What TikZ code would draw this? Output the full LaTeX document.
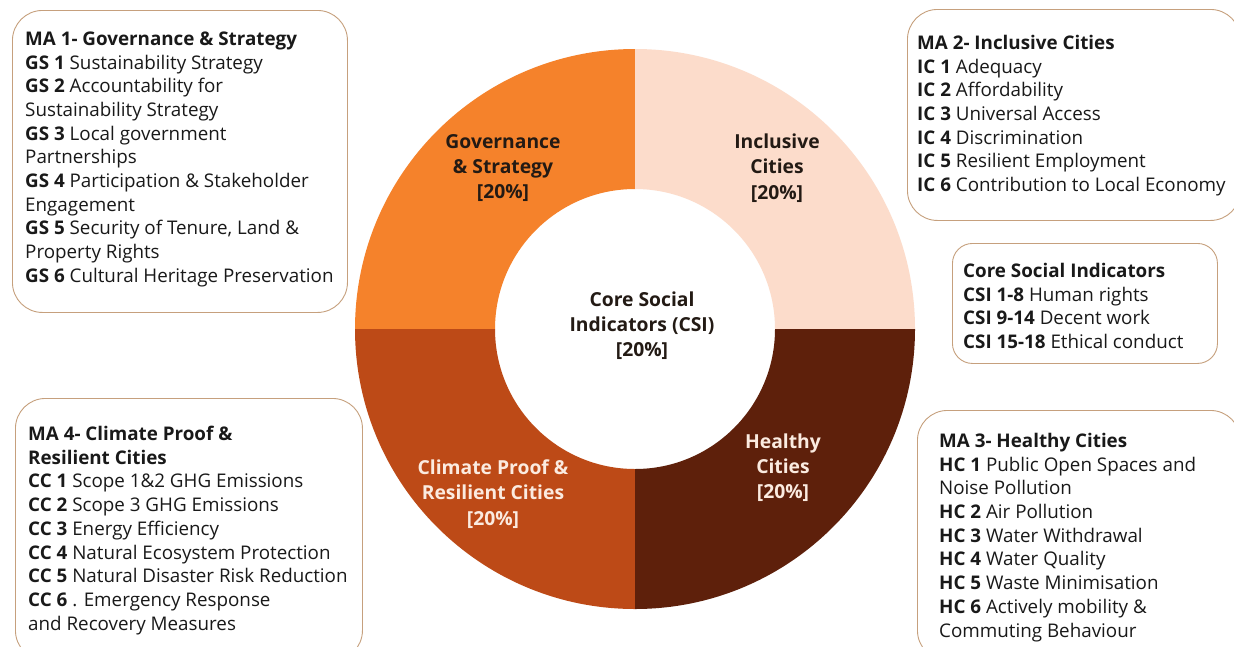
\documentclass[tikz,border=0pt]{standalone}
\usepackage{fontspec}
\setmainfont{Open Sans}
\usetikzlibrary{positioning}

\definecolor{govorange}{HTML}{F5822B}
\definecolor{incpeach}{HTML}{FCDCCB}
\definecolor{clmrust}{HTML}{BD4A17}
\definecolor{hltbrown}{HTML}{5E200B}
\definecolor{cardline}{HTML}{C6A07D}
\definecolor{darktxt}{HTML}{231A14}
\definecolor{lighttxt}{HTML}{FBEBE0}

\begin{document}
\begin{tikzpicture}[x=1pt, y=-1pt,
        card/.style={draw=cardline, line width=0.9pt, rounded corners=30pt, anchor=north west},
        list/.style={anchor=north west, align=left, inner sep=0pt, text=black!90, font=\fontsize{18.8}{23.7}\selectfont},
        seglbl/.style={align=center, inner sep=0pt, font=\fontsize{19.3}{25.3}\selectfont\bfseries}
    ]
        \useasboundingbox[fill=white] (0,0) rectangle (1234,646);

        % donut: four quarters round the core
        \begin{scope}[shift={(635,329)}, x=1pt, y=1pt]
            \foreach \a/\col in {90/govorange, 0/incpeach, 180/clmrust, 270/hltbrown}
                \fill[\col] (\a:280) arc[start angle=\a, end angle=\a+90, radius=280]
                    -- (\a+90:140) arc[start angle=\a+90, end angle=\a, radius=140] -- cycle;
        \end{scope}

        \node[seglbl, text=darktxt] (govlbl) at (503,168) {Governance\\\& Strategy\\{[20\%]}};
        \node[seglbl, text=darktxt] (inclbl) at (777,168) {Inclusive\\Cities\\{[20\%]}};
        \node[seglbl, text=darktxt] (csilbl) at (642,325.5) {Core Social\\Indicators (CSI)\\{[20\%]}};
        \node[seglbl, text=lighttxt] (hltlbl) at (783,467.5) {Healthy\\Cities\\{[20\%]}};
        \node[seglbl, text=lighttxt] (clmlbl) at (493,494) {Climate Proof \&\\Resilient Cities\\{[20\%]}};

        % indicator cards
        \node[card, minimum width=335pt, minimum height=302pt] (govcard) at (12,10) {};
        \node[list, below right=21.5pt and 13pt of govcard.north west] (govlist) {%
            \textbf{MA 1- Governance \& Strategy}\\
            \textbf{GS 1} Sustainability Strategy\\
            \textbf{GS 2} Accountability for\\
            Sustainability Strategy\\
            \textbf{GS 3} Local government\\
            Partnerships\\
            \textbf{GS 4} Participation \& Stakeholder\\
            Engagement\\
            \textbf{GS 5} Security of Tenure, Land \&\\
            Property Rights\\
            \textbf{GS 6} Cultural Heritage Preservation};

        \node[card, minimum width=333pt, minimum height=211pt] (inccard) at (907,9) {};
        \node[list, below right=26pt and 10pt of inccard.north west] (inclist) {%
            \textbf{MA 2- Inclusive Cities}\\
            \textbf{IC 1} Adequacy\\
            \textbf{IC 2} Affordability\\
            \textbf{IC 3} Universal Access\\
            \textbf{IC 4} Discrimination\\
            \textbf{IC 5} Resilient Employment\\
            \textbf{IC 6} Contribution to Local Economy};

        \node[card, rounded corners=20pt, minimum width=265pt, minimum height=120pt] (csicard) at (952,243) {};
        \node[list, below right=20pt and 11pt of csicard.north west] (csilist) {%
            \textbf{Core Social Indicators}\\
            \textbf{CSI 1-8} Human rights\\
            \textbf{CSI 9-14} Decent work\\
            \textbf{CSI 15-18} Ethical conduct};

        \node[card, minimum width=323pt, minimum height=250pt] (hltcard) at (917,410) {};
        \node[list, below right=23pt and 22pt of hltcard.north west] (hltlist) {%
            \textbf{MA 3- Healthy Cities}\\
            \textbf{HC 1} Public Open Spaces and\\
            Noise Pollution\\
            \textbf{HC 2} Air Pollution\\
            \textbf{HC 3} Water Withdrawal\\
            \textbf{HC 4} Water Quality\\
            \textbf{HC 5} Waste Minimisation\\
            \textbf{HC 6} Actively mobility \&\\
            Commuting Behaviour};

        \node[card, minimum width=347pt, minimum height=262pt] (clmcard) at (15,398) {};
        \node[list, below right=28pt and 13pt of clmcard.north west] (clmlist) {%
            \textbf{MA 4- Climate Proof \&}\\
            \textbf{Resilient Cities}\\
            \textbf{CC 1} Scope 1\&2 GHG Emissions\\
            \textbf{CC 2} Scope 3 GHG Emissions\\
            \textbf{CC 3} Energy Efficiency\\
            \textbf{CC 4} Natural Ecosystem Protection\\
            \textbf{CC 5} Natural Disaster Risk Reduction\\
            \textbf{CC 6} . Emergency Response\\
            and Recovery Measures};
    \end{tikzpicture}
\end{document}
